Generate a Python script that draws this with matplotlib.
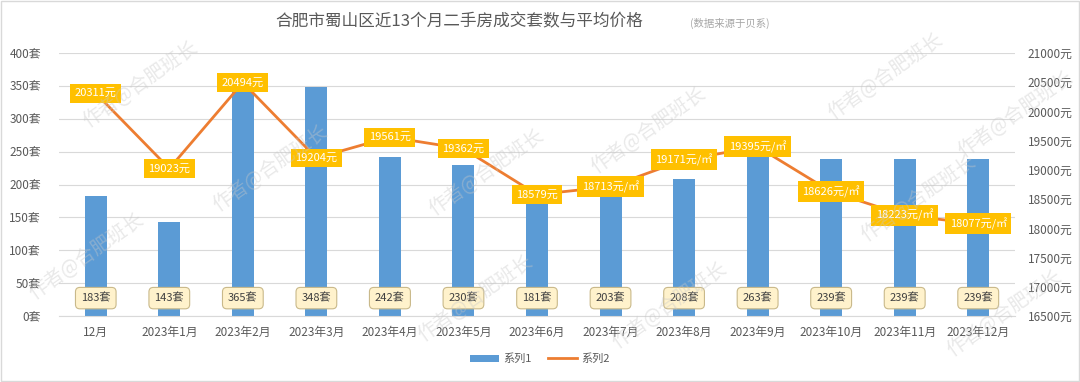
import matplotlib
matplotlib.use('Agg')
import matplotlib.pyplot as plt
import numpy as np

plt.rcParams['font.family'] = ['Noto Sans CJK SC', 'DejaVu Sans']

months = ['12月', '2023年1月', '2023年2月', '2023年3月', '2023年4月', '2023年5月',
          '2023年6月', '2023年7月', '2023年8月', '2023年9月', '2023年10月',
          '2023年11月', '2023年12月']
deals = [183, 143, 365, 348, 242, 230, 181, 203, 208, 263, 239, 239, 239]
prices = [20311, 19023, 20494, 19204, 19561, 19362, 18579, 18713, 19171, 19395,
          18626, 18223, 18077]
price_units = ['元'] * 7 + ['元/㎡'] * 6
watermarks = [(0.13, 0.78), (0.25, 0.56), (0.08, 0.33), (0.45, 0.55), (0.60, 0.66),
              (0.82, 0.80), (0.85, 0.48), (0.94, 0.70), (0.44, 0.22), (0.62, 0.20),
              (0.93, 0.18)]

BLUE = '#5B9BD5'
ORANGE = '#ED7D31'
GOLD = '#FFC000'
GRAY = '#595959'

fig = plt.figure(figsize=(10.8, 3.82), dpi=100)
ax = fig.add_axes([59 / 1080, 1 - 316 / 382, (1015 - 59) / 1080, (316 - 53) / 382])
ax2 = ax.twinx()

x = np.arange(len(months))
bars = ax.bar(x, deals, width=0.3, color=BLUE, zorder=2, label='系列1')
ax.set_ylim(0, 400)
ax.set_yticks(np.arange(0, 401, 50))
ax.set_yticklabels([f'{v}套' for v in range(0, 401, 50)])
ax.set_xlim(-0.5, len(months) - 0.5)
ax.set_xticks(x)
ax.set_xticklabels(months)
ax.grid(axis='y', color='#D9D9D9', linewidth=0.8, zorder=0)
ax.set_axisbelow(True)

line, = ax2.plot(x, prices, color=ORANGE, linewidth=2, zorder=3, label='系列2')
ax2.set_ylim(16500, 21000)
ax2.set_yticks(np.arange(16500, 21001, 500))
ax2.set_yticklabels([f'{v}元' for v in range(16500, 21001, 500)])

for a in (ax, ax2):
    for s in a.spines.values():
        s.set_visible(False)
    a.tick_params(length=0, labelsize=8.5, colors=GRAY)
ax.tick_params(axis='y', pad=13)
ax2.tick_params(axis='y', pad=9)
ax.spines['bottom'].set_visible(True)
ax.spines['bottom'].set_color('#D9D9D9')
ax.tick_params(axis='x', pad=7)

# bar value labels near bottom
for xi, v in zip(x, deals):
    ax.text(xi, 0.068, f'{v}套', transform=ax.get_xaxis_transform(), ha='center', va='center',
            fontsize=8, color='#404040', zorder=5,
            bbox=dict(boxstyle='round,pad=0.5,rounding_size=0.4', fc='#FFF2CC', ec='#C9B98A', lw=0.8))

# line value labels
for xi, v, u in zip(x, prices, price_units):
    ax2.text(xi, v, f'{v}{u}', ha='center', va='center', fontsize=8, color='white', zorder=6,
             bbox=dict(boxstyle='square,pad=0.4', fc=GOLD, ec='none'))

fig.text(275 / 1080, 1 - 22 / 382, '合肥市蜀山区近13个月二手房成交套数与平均价格', ha='left', va='center',
         fontsize=12, color=GRAY)
fig.text(690 / 1080, 1 - 23 / 382, '(数据来源于贝系)', ha='left', va='center', fontsize=7.5,
         color='#A6A6A6')

fig.legend(handles=[bars, line], labels=['系列1', '系列2'], loc='center', ncol=2,
           bbox_to_anchor=(0.5, 1 - 359 / 382), frameon=False, fontsize=8, labelcolor=GRAY,
           handlelength=2.6, columnspacing=1.5, handletextpad=0.4)

for wx, wy in watermarks:
    fig.text(wx, wy, '作者@合肥班长', ha='center', va='center', rotation=35, fontsize=14,
             color='#C8C8C8', alpha=0.4, zorder=10)

fig.patches.append(plt.Rectangle((0.001, 0.002), 0.998, 0.995, transform=fig.transFigure,
                                 fill=False, ec='#D9D9D9', lw=1))

fig.savefig('out.png', dpi=100)
